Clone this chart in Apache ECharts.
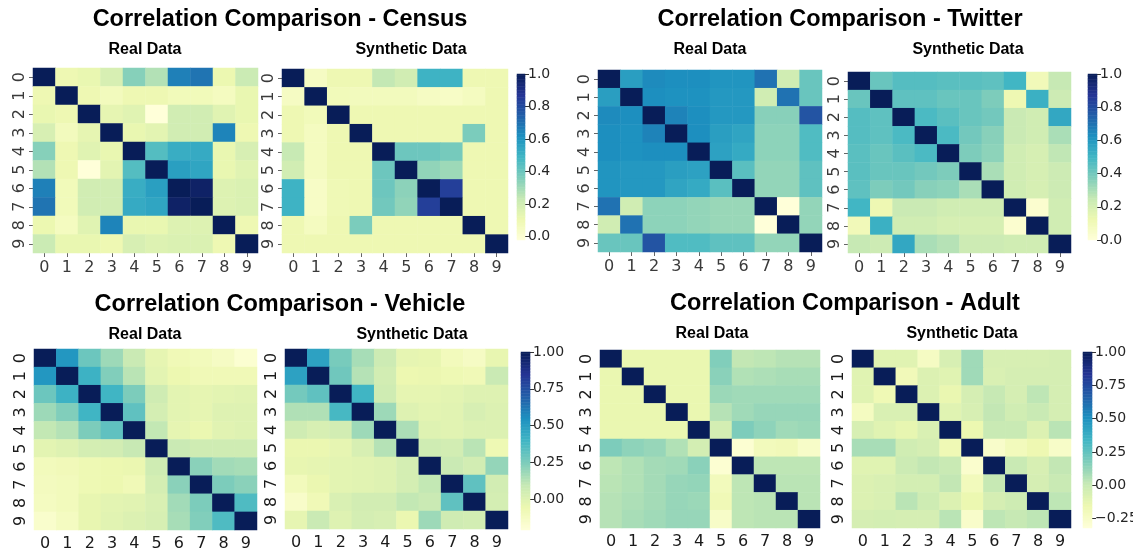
<!DOCTYPE html>
<html>
<head>
<meta charset="utf-8">
<script src="https://cdn.jsdelivr.net/npm/echarts@6/dist/echarts.min.js"></script>
<style>
  html, body { margin: 0; padding: 0; background: #ffffff; }
  #chart { width: 1133px; height: 554px; }
</style>
</head>
<body>
<div id="chart"></div>
<script>
// Feature indices shown on both axes of every matrix
const cellLabels = ['0', '1', '2', '3', '4', '5', '6', '7', '8', '9'];

// ---- Census correlation matrices ----
const censusReal = [
  [1.00, 0.10, 0.12, 0.18, 0.35, 0.27, 0.66, 0.69, 0.11, 0.22],
  [0.10, 1.00, 0.10, 0.07, 0.10, 0.10, 0.08, 0.08, 0.06, 0.12],
  [0.12, 0.10, 1.00, 0.13, 0.15, -0.02, 0.20, 0.20, 0.15, 0.12],
  [0.18, 0.07, 0.13, 1.00, 0.12, 0.14, 0.20, 0.20, 0.65, 0.10],
  [0.35, 0.10, 0.15, 0.12, 1.00, 0.45, 0.52, 0.53, 0.12, 0.18],
  [0.27, 0.10, -0.02, 0.14, 0.45, 1.00, 0.57, 0.55, 0.12, 0.15],
  [0.66, 0.08, 0.20, 0.20, 0.52, 0.57, 1.00, 0.97, 0.16, 0.17],
  [0.69, 0.08, 0.20, 0.20, 0.53, 0.55, 0.97, 1.00, 0.16, 0.17],
  [0.11, 0.06, 0.15, 0.65, 0.12, 0.12, 0.16, 0.16, 1.00, 0.10],
  [0.22, 0.12, 0.12, 0.10, 0.18, 0.16, 0.17, 0.17, 0.10, 1.00]
];
const censusSynth = [
  [1.00, 0.05, 0.10, 0.10, 0.24, 0.20, 0.50, 0.50, 0.10, 0.10],
  [0.05, 1.00, 0.08, 0.07, 0.07, 0.07, 0.05, 0.04, 0.06, 0.10],
  [0.10, 0.08, 1.00, 0.10, 0.10, 0.10, 0.10, 0.10, 0.10, 0.10],
  [0.10, 0.06, 0.10, 1.00, 0.10, 0.10, 0.10, 0.10, 0.37, 0.10],
  [0.23, 0.06, 0.10, 0.10, 1.00, 0.40, 0.40, 0.38, 0.10, 0.10],
  [0.20, 0.06, 0.10, 0.10, 0.40, 1.00, 0.33, 0.31, 0.10, 0.10],
  [0.50, 0.04, 0.09, 0.10, 0.40, 0.34, 1.00, 0.84, 0.10, 0.10],
  [0.50, 0.04, 0.09, 0.10, 0.39, 0.33, 0.84, 1.00, 0.10, 0.10],
  [0.10, 0.06, 0.10, 0.37, 0.10, 0.10, 0.10, 0.10, 1.00, 0.10],
  [0.10, 0.10, 0.10, 0.10, 0.10, 0.10, 0.10, 0.10, 0.10, 1.00]
];
const censusRange = [-0.02, 1.0];
const censusTicks = [0.0, 0.2, 0.4, 0.6, 0.8, 1.0];

// ---- Twitter correlation matrices ----
const twitterReal = [
  [1.00, 0.58, 0.64, 0.63, 0.63, 0.61, 0.61, 0.70, 0.22, 0.42],
  [0.58, 1.00, 0.63, 0.62, 0.62, 0.60, 0.60, 0.22, 0.70, 0.42],
  [0.64, 0.63, 1.00, 0.66, 0.63, 0.60, 0.60, 0.36, 0.36, 0.78],
  [0.63, 0.62, 0.66, 1.00, 0.63, 0.58, 0.56, 0.35, 0.35, 0.47],
  [0.63, 0.62, 0.63, 0.63, 1.00, 0.57, 0.54, 0.35, 0.35, 0.47],
  [0.61, 0.60, 0.60, 0.58, 0.57, 1.00, 0.45, 0.34, 0.34, 0.44],
  [0.61, 0.60, 0.60, 0.56, 0.54, 0.45, 1.00, 0.34, 0.34, 0.44],
  [0.70, 0.22, 0.35, 0.35, 0.34, 0.33, 0.33, 1.00, 0.00, 0.34],
  [0.22, 0.70, 0.35, 0.35, 0.34, 0.33, 0.33, 0.00, 1.00, 0.34],
  [0.42, 0.42, 0.78, 0.47, 0.47, 0.44, 0.44, 0.34, 0.34, 1.00]
];
const twitterSynth = [
  [1.00, 0.42, 0.46, 0.46, 0.45, 0.45, 0.44, 0.50, 0.10, 0.25],
  [0.42, 1.00, 0.44, 0.44, 0.42, 0.42, 0.38, 0.12, 0.52, 0.23],
  [0.46, 0.44, 1.00, 0.48, 0.45, 0.42, 0.40, 0.24, 0.22, 0.55],
  [0.46, 0.44, 0.48, 1.00, 0.48, 0.40, 0.36, 0.24, 0.22, 0.30],
  [0.45, 0.42, 0.45, 0.48, 1.00, 0.38, 0.35, 0.22, 0.20, 0.26],
  [0.45, 0.42, 0.42, 0.40, 0.38, 1.00, 0.30, 0.22, 0.20, 0.23],
  [0.44, 0.38, 0.40, 0.36, 0.35, 0.30, 1.00, 0.22, 0.20, 0.23],
  [0.50, 0.12, 0.24, 0.24, 0.22, 0.22, 0.22, 1.00, 0.03, 0.22],
  [0.10, 0.52, 0.22, 0.22, 0.20, 0.20, 0.20, 0.03, 1.00, 0.22],
  [0.25, 0.23, 0.55, 0.30, 0.28, 0.23, 0.23, 0.22, 0.22, 1.00]
];
const twitterRange = [0.0, 1.0];
const twitterTicks = [0.0, 0.2, 0.4, 0.6, 0.8, 1.0];

// ---- Vehicle correlation matrices ----
const vehicleReal = [
  [1.00, 0.52, 0.29, 0.18, 0.08, -0.03, -0.08, -0.10, -0.13, -0.18],
  [0.52, 1.00, 0.41, 0.24, 0.12, -0.02, -0.06, -0.08, -0.08, -0.08],
  [0.29, 0.41, 1.00, 0.40, 0.25, 0.06, -0.02, -0.03, -0.02, -0.01],
  [0.18, 0.24, 0.40, 1.00, 0.32, 0.04, -0.02, -0.03, 0.00, 0.00],
  [0.10, 0.13, 0.25, 0.32, 1.00, 0.10, -0.03, -0.05, -0.01, 0.00],
  [-0.02, 0.00, 0.04, 0.05, 0.09, 1.00, 0.08, 0.06, 0.06, 0.06],
  [-0.10, -0.09, -0.07, -0.06, -0.05, 0.06, 1.00, 0.22, 0.17, 0.16],
  [-0.11, -0.10, -0.07, -0.06, -0.08, 0.04, 0.22, 1.00, 0.25, 0.22],
  [-0.12, -0.10, -0.04, -0.02, -0.01, 0.02, 0.17, 0.25, 1.00, 0.36],
  [-0.16, -0.12, -0.04, -0.01, 0.01, 0.03, 0.16, 0.24, 0.36, 1.00]
];
const vehicleSynth = [
  [1.00, 0.48, 0.26, 0.16, 0.07, -0.03, -0.04, -0.10, -0.13, -0.04],
  [0.48, 1.00, 0.28, 0.13, 0.05, -0.06, -0.05, -0.07, -0.08, 0.08],
  [0.27, 0.32, 1.00, 0.40, 0.06, -0.03, -0.03, -0.02, 0.00, 0.00],
  [0.14, 0.14, 0.38, 1.00, 0.18, 0.00, -0.02, -0.01, 0.03, 0.01],
  [0.06, 0.03, 0.05, 0.18, 1.00, 0.15, 0.00, -0.01, 0.01, 0.01],
  [-0.05, -0.05, -0.03, 0.03, 0.13, 1.00, 0.06, 0.05, 0.12, -0.07],
  [-0.04, -0.03, -0.02, -0.01, 0.00, 0.04, 1.00, 0.08, 0.05, 0.20],
  [-0.10, -0.05, -0.02, -0.01, 0.00, 0.04, 0.10, 1.00, 0.32, 0.05],
  [-0.15, -0.08, 0.02, 0.05, 0.05, 0.10, 0.08, 0.32, 1.00, 0.04],
  [-0.03, 0.08, 0.00, 0.04, 0.03, -0.05, 0.18, 0.06, 0.05, 1.00]
];
const vehicleRange = [-0.21, 1.0];
const vehicleTicks = [0.0, 0.25, 0.5, 0.75, 1.0];

// ---- Adult correlation matrices ----
const adultReal = [
  [1.00, -0.14, -0.14, -0.14, -0.14, 0.17, 0.02, 0.03, 0.05, 0.05],
  [-0.14, 1.00, -0.14, -0.14, -0.14, 0.15, 0.06, 0.07, 0.08, 0.08],
  [-0.14, -0.14, 1.00, -0.14, -0.14, 0.11, 0.10, 0.10, 0.10, 0.10],
  [-0.14, -0.14, -0.14, 1.00, -0.14, 0.05, 0.10, 0.12, 0.12, 0.12],
  [-0.14, -0.14, -0.14, -0.14, 1.00, -0.04, 0.18, 0.14, 0.10, 0.11],
  [0.18, 0.14, 0.12, 0.06, -0.04, 1.00, -0.29, -0.20, -0.19, -0.25],
  [0.03, 0.06, 0.09, 0.10, 0.15, -0.29, 1.00, 0.03, 0.03, 0.03],
  [0.04, 0.06, 0.09, 0.12, 0.13, -0.20, 0.03, 1.00, 0.04, 0.04],
  [0.05, 0.07, 0.09, 0.12, 0.11, -0.18, 0.03, 0.04, 1.00, 0.04],
  [0.05, 0.08, 0.10, 0.12, 0.12, -0.25, 0.03, 0.04, 0.04, 1.00]
];
const adultSynth = [
  [1.00, -0.10, -0.10, -0.23, -0.06, 0.10, -0.06, -0.06, -0.06, -0.05],
  [-0.10, 1.00, -0.19, -0.08, -0.10, 0.10, -0.07, -0.05, -0.05, -0.05],
  [-0.10, -0.17, 1.00, -0.08, -0.14, -0.05, 0.01, -0.05, 0.03, -0.05],
  [-0.22, -0.07, -0.07, 1.00, -0.10, -0.06, 0.02, -0.03, 0.00, -0.05],
  [-0.06, -0.10, -0.13, -0.07, 1.00, -0.15, 0.00, 0.00, -0.08, 0.04],
  [0.08, 0.08, -0.03, -0.05, -0.17, 1.00, -0.26, -0.20, -0.16, -0.25],
  [-0.10, -0.10, -0.01, 0.02, 0.00, -0.27, 1.00, 0.00, -0.06, 0.02],
  [-0.08, -0.07, -0.04, -0.04, 0.02, -0.20, 0.01, 1.00, -0.05, 0.00],
  [-0.08, -0.07, 0.04, -0.02, -0.08, -0.15, -0.05, -0.02, 1.00, 0.03],
  [-0.05, -0.04, -0.05, -0.05, 0.04, -0.26, 0.03, 0.01, 0.03, 1.00]
];
const adultRange = [-0.32, 1.0];
const adultTicks = [-0.25, 0.0, 0.25, 0.5, 0.75, 1.0];

// Sequential yellow-green-blue colour ramp
const YL_GN_BU = ['#ffffd9', '#edf8b1', '#c7e9b4', '#7fcdbb', '#41b6c4',
                  '#1d91c0', '#225ea8', '#253494', '#081d58'];

const panels = [
  {
    title: 'Correlation Comparison - Census', titleAt: [280, 20],
    subY: 49.5, realSubX: 145, synthSubX: 411,
    real: censusReal, synth: censusSynth, range: censusRange, ticks: censusTicks, digits: 1,
    realBox: { left: 33, top: 68, width: 225, height: 185 },
    synthBox: { left: 282, top: 69, width: 226, height: 184 },
    barBox: { left: 517, top: 74, width: 8, height: 166 },
    axisTicks: true, labelColor: '#3a3a3a'
  },
  {
    title: 'Correlation Comparison - Twitter', titleAt: [840, 20],
    subY: 49.5, realSubX: 710, synthSubX: 968,
    real: twitterReal, synth: twitterSynth, range: twitterRange, ticks: twitterTicks, digits: 1,
    realBox: { left: 598, top: 70, width: 224, height: 182 },
    synthBox: { left: 848, top: 72, width: 223, height: 181 },
    barBox: { left: 1088, top: 74, width: 9, height: 166 },
    axisTicks: true, labelColor: '#3a3a3a'
  },
  {
    title: 'Correlation Comparison - Vehicle', titleAt: [280, 305],
    subY: 335, realSubX: 145, synthSubX: 412,
    real: vehicleReal, synth: vehicleSynth, range: vehicleRange, ticks: vehicleTicks, digits: 2,
    realBox: { left: 34, top: 349, width: 223, height: 181 },
    synthBox: { left: 285, top: 349, width: 223, height: 180 },
    barBox: { left: 521, top: 352, width: 9, height: 178 },
    axisTicks: false, labelColor: '#1a1a1a'
  },
  {
    title: 'Correlation Comparison - Adult', titleAt: [845, 304],
    subY: 334, realSubX: 712, synthSubX: 962,
    real: adultReal, synth: adultSynth, range: adultRange, ticks: adultTicks, digits: 2,
    realBox: { left: 600, top: 350, width: 220, height: 178 },
    synthBox: { left: 852, top: 350, width: 219, height: 178 },
    barBox: { left: 1083, top: 352, width: 9, height: 176 },
    axisTicks: false, labelColor: '#1a1a1a'
  }
];

const grids = [], xAxes = [], yAxes = [], series = [], visualMaps = [], graphics = [];

function addGrid(box) {
  grids.push(Object.assign({ containLabel: false, outerBoundsMode: 'none' }, box));
  return grids.length - 1;
}

function addMatrix(box, matrix, p) {
  const gi = addGrid(box);
  const tickStyle = { show: p.axisTicks, alignWithLabel: true, length: 4,
                      lineStyle: { color: '#666', width: 1 } };
  xAxes.push({
    type: 'category', gridIndex: gi, data: cellLabels, position: 'bottom',
    axisLine: { show: false }, axisTick: tickStyle, splitLine: { show: false },
    axisLabel: { fontFamily: 'DejaVu Sans', fontSize: 16, color: p.labelColor,
                 margin: p.axisTicks ? 7 : 6 }
  });
  yAxes.push({
    type: 'category', gridIndex: gi, data: cellLabels, inverse: true, position: 'left',
    axisLine: { show: false }, axisTick: tickStyle, splitLine: { show: false },
    axisLabel: { fontFamily: 'DejaVu Sans', fontSize: 16, color: p.labelColor,
                 rotate: 90, margin: 5 }
  });
  const data = [];
  matrix.forEach((row, r) => row.forEach((v, c) => data.push([c, r, v])));
  series.push({
    type: 'heatmap', xAxisIndex: xAxes.length - 1, yAxisIndex: yAxes.length - 1,
    data, itemStyle: { borderWidth: 0 }, emphasis: { disabled: true }, silent: true
  });
  return series.length - 1;
}

function fmtTick(v, digits) {
  const s = Math.abs(v).toFixed(digits);
  return v < 0 ? '\u2212' + s : s;
}

function addColorbar(p) {
  const gi = addGrid(p.barBox);
  const steps = 120;
  const [lo, hi] = p.range;
  const stepNames = [];
  const data = [];
  for (let i = 0; i < steps; i++) {
    stepNames.push(String(i));
    data.push([0, i, lo + (i + 0.5) * (hi - lo) / steps]);
  }
  xAxes.push({ type: 'category', gridIndex: gi, data: ['c'], show: false });
  yAxes.push({ type: 'category', gridIndex: gi, data: stepNames, show: false });
  const catIndex = yAxes.length - 1;
  yAxes.push({
    type: 'value', gridIndex: gi, position: 'right', min: lo, max: hi,
    axisLine: { show: false }, splitLine: { show: false },
    axisTick: { show: true, length: 4, customValues: p.ticks,
                lineStyle: { color: '#333', width: 1 } },
    axisLabel: { customValues: p.ticks, margin: 3, fontFamily: 'DejaVu Sans',
                 fontSize: 14, color: '#262626',
                 formatter: (v) => fmtTick(v, p.digits) }
  });
  series.push({
    type: 'heatmap', xAxisIndex: xAxes.length - 1, yAxisIndex: catIndex,
    data, itemStyle: { borderWidth: 0 }, emphasis: { disabled: true }, silent: true
  });
  return series.length - 1;
}

function addText(x, y, text, font) {
  graphics.push({
    type: 'text', x, y, silent: true,
    style: { text, font, fill: '#000', textAlign: 'center', textVerticalAlign: 'middle' }
  });
}

panels.forEach((p) => {
  const a = addMatrix(p.realBox, p.real, p);
  const b = addMatrix(p.synthBox, p.synth, p);
  const c = addColorbar(p);
  visualMaps.push({
    type: 'continuous', show: false, dimension: 2,
    min: p.range[0], max: p.range[1], seriesIndex: [a, b, c],
    inRange: { color: YL_GN_BU }
  });
  addText(p.titleAt[0], p.titleAt[1], p.title, "bold 23.5px 'Liberation Sans', Arial, sans-serif");
  addText(p.realSubX, p.subY, 'Real Data', "bold 16px 'Liberation Sans', Arial, sans-serif");
  addText(p.synthSubX, p.subY, 'Synthetic Data', "bold 16px 'Liberation Sans', Arial, sans-serif");
});

const chart = echarts.init(document.getElementById('chart'), null, { renderer: 'canvas' });
chart.setOption({
  backgroundColor: '#ffffff',
  animation: false,
  grid: grids,
  xAxis: xAxes,
  yAxis: yAxes,
  visualMap: visualMaps,
  series: series,
  graphic: { elements: graphics }
});
</script>
</body>
</html>
